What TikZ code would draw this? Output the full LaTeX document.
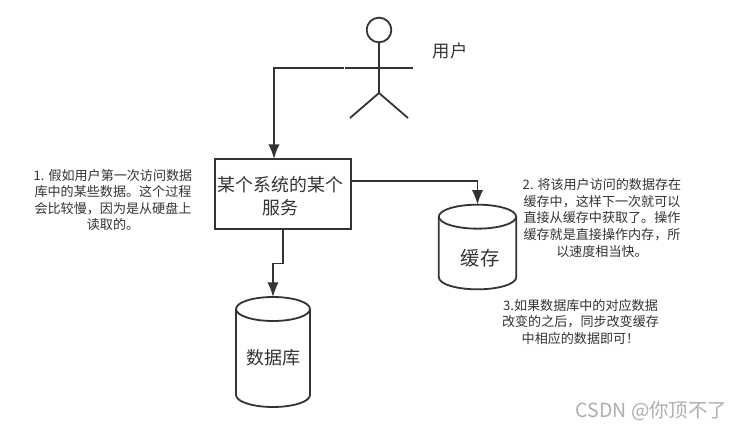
\documentclass[tikz,border=0pt]{standalone}
\usepackage{fontspec}
\usepackage{tikz}
\usepackage{xcolor}
\usetikzlibrary{arrows.meta,calc,positioning}
\setmainfont{Noto Sans CJK SC}
\definecolor{linegray}{RGB}{51,51,51}
\definecolor{markgray}{RGB}{175,175,175}
\tikzset{
  line/.style={draw=linegray,line width=1.35pt},
  conn/.style={line,-{Latex[length=11pt,width=8.5pt]}},
  notetext/.style={font=\fontsize{9.8}{12.4}\selectfont,align=center,inner sep=0pt,text=linegray},
  store/.style={inner sep=0pt,outer sep=0pt},
  storetext/.style={inner sep=0pt,text=linegray,font=\fontsize{13.5}{16}\selectfont},
}
% #1 node, #2 x radius of the ends
\newcommand{\storebody}[2]{
  \draw[line] ($(#1.south west)+(0,-12)$) arc[start angle=180,end angle=360,x radius=#2,y radius=9pt]
    -- ($(#1.north east)+(0,12)$) arc[start angle=0,end angle=180,x radius=#2,y radius=9pt]
    -- cycle;
  \draw[line] ($(#1.north west)+(0,12)$) arc[start angle=180,end angle=360,x radius=#2,y radius=9pt];
}

\begin{document}
\begin{tikzpicture}[x=0.75pt,y=-0.75pt,>=Stealth]
  \useasboundingbox[fill=white] (0,0) rectangle (741,431);
  % user
  \node[circle,line,minimum size=18.5pt,inner sep=0pt] (head) at (379,30) {};
  \coordinate (hip) at (379,93);
  \draw[line] (head.south) -- (hip);
  \draw[line] (344.5,68) -- (413,68);
  \draw[line] (350,118) -- (hip) -- (408,118);
  \node[notetext,font=\fontsize{13}{15}\selectfont] (user) at (450,51) {用户};
  % service and stores
  \node[line,minimum width=101.5pt,minimum height=52pt,inner sep=0pt] (svc) at (283,194) {};
  \node[storetext,align=center,font=\fontsize{13.4}{17.6}\selectfont] (svctext) at (280.5,196) {某个系统的某个\\服务};
  \node[store,minimum width=58pt,minimum height=63.5pt] (cache) at (477.5,247) {};
  \storebody{cache}{29pt}
  \node[storetext,font=\fontsize{14.5}{16}\selectfont] (cachetext) at (480,258) {缓存};
  \node[store,minimum width=55.5pt,minimum height=82.5pt] (db) at (273,352) {};
  \storebody{db}{27.75pt}
  \node[storetext] (dbtext) at (273,358) {数据库};
  \coordinate (armL) at (343.5,68);
  \coordinate (svcin) at (274,159);
  \coordinate (svcout) at (351,181);
  \draw[conn] (armL) -| (svcin);
  \draw[conn] (svcout) -| (cache.north);
  \draw[conn] (svc.south) -- ++(0,34) -| (db.north);
  % notes
  \node[notetext] (n1) at (113,200) {1. 假如用户第一次访问数据\\库中的某些数据。这个过程\\会比较慢，因为是从硬盘上\\读取的。};
  \node[notetext] (n2) at (602,218) {2. 将该用户访问的数据存在\\缓存中，这样下一次就可以\\直接从缓存中获取了。操作\\缓存就是直接操作内存，所\\以速度相当快。};
  \node[notetext] (n3) at (580.5,322) {3.如果数据库中的对应数据\\改变的之后，同步改变缓存\\中相应的数据即可！};
  \node[inner sep=0pt,text=markgray,font=\fontsize{14.6}{16}\selectfont] (mark) at (651.5,411) {CSDN @你顶不了};
\end{tikzpicture}
\end{document}
